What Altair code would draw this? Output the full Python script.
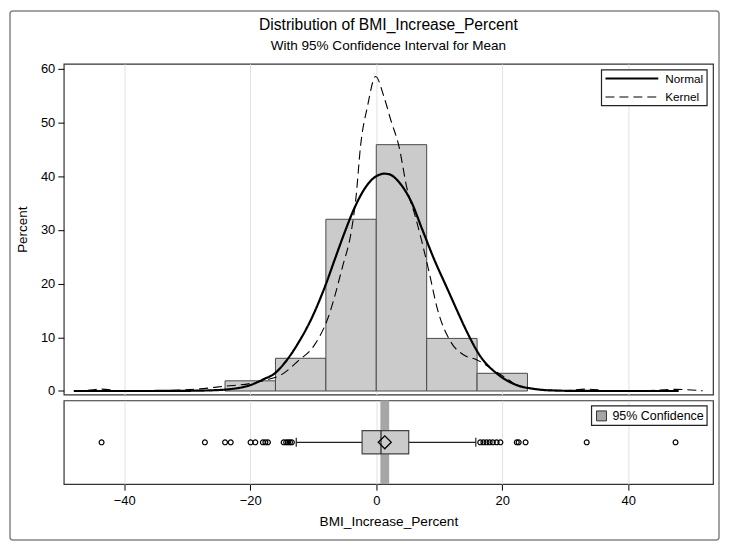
import altair as alt
import pandas as pd

FONT = "Liberation Sans"

# ---- histogram (percent of observations per 8-unit bin) ----
bin_start = [-24, -16, -8, 0, 8, 16]
bin_end = [-16, -8, 0, 8, 16, 24]
bin_pct = [1.9, 6.1, 32.0, 45.9, 9.8, 3.3]

# ---- fitted normal curve ----
normal_x = [-48, -40, -32, -27, -23, -20, -17.7, -16.2, -14.5, -12.2, -10.4, -8, -6.5, -5.1,
            -3.5, -1.9, -0.5, 0.5, 1.2, 2.0, 3.4, 4.5, 5.5, 7.3, 9.2, 11.3, 12.9, 14.4, 16.5,
            19.2, 22.3, 25, 28, 32, 40, 48]
normal_y = [0.0, 0.0, 0.02, 0.1, 0.38, 1.1, 2.3, 3.2, 5.3, 9.3, 13.2, 19.9, 24.8, 29.3,
            34.0, 37.6, 39.6, 40.3, 40.5, 40.4, 39.2, 37.5, 35.4, 30.1, 24.5, 19.0, 14.8, 11.0,
            6.5, 3.2, 1.1, 0.4, 0.1, 0.02, 0.0, 0.0]

# ---- kernel density curve ----
kernel_x = [-48, -46, -43.6, -41, -37, -32, -28, -24, -20, -17.7, -15.1, -12.5, -9.8, -7.7,
            -5.3, -4.0, -3.2, -2.5, -1.4, -0.1, 1.2, 2.3, 3.6, 4.9, 6.2, 7.2, 8.4, 9.7, 11.8,
            13.9, 16.0, 18.6, 20.5, 22.3, 24.5, 27.1, 30, 33.4, 36.5, 42, 47.5, 51.8]
kernel_y = [0.05, 0.1, 0.35, 0.08, 0.03, 0.15, 0.4, 0.9, 1.4, 2.0, 3.0, 5.5, 8.6, 13.5,
            23.4, 29.5, 36.3, 45.6, 53.0, 58.6, 54.9, 50.5, 45.6, 37.6, 32.5, 28.0, 22.1, 15.3,
            9.2, 6.7, 5.8, 3.9, 2.5, 1.1, 0.5, 0.2, 0.1, 0.35, 0.08, 0.03, 0.3, 0.05]

# ---- box plot summary ----
whisker_low = -12.7
q1 = -2.25
median = 0.75
mean = 1.35
q3 = 5.15
whisker_high = 15.8
ci_low = 0.65
ci_high = 2.05
outliers = [-43.6, -27.2, -24.0, -23.1, -19.95, -19.2, -18.0, -17.6, -17.2, -14.7, -14.3,
            -14.0, -13.7, -13.4, 16.5, 17.0, 17.5, 18.0, 18.5, 19.1, 19.7, 22.3, 22.6, 23.7,
            33.4, 47.5]

x_ticks = [-40, -20, 0, 20, 40]
y_ticks = [0, 10, 20, 30, 40, 50, 60]
legend_labels = ["Normal", "Kernel"]
ci_label = ["95% Confidence"]
title_text = ["Distribution of BMI_Increase_Percent"]
subtitle_text = ["With 95% Confidence Interval for Mean"]

W = 652
H_TOP = 332
H_BOT = 84

xs = alt.Scale(domain=[-49.6, 53.45], nice=False, zero=False)
ys = alt.Scale(domain=[-0.65, 60.95], nice=False, zero=False)
dash_scale = alt.Scale(domain=legend_labels, range=[[1, 0], [9, 5]])

top_x_axis = alt.Axis(values=x_ticks, grid=True, labels=False, ticks=False, domain=False,
                      title=None, gridColor="#e2e2e2")
top_y_axis = alt.Axis(values=y_ticks, title="Percent", grid=False, domain=False, tickSize=6,
                      tickColor="black", labelFontSize=13, labelFont=FONT, labelColor="black",
                      titleFont=FONT, titleFontSize=13.5, titleFontWeight="normal",
                      titleColor="black", titlePadding=11, labelPadding=3)

hist_df = pd.DataFrame({"start": bin_start, "end": bin_end, "pct": bin_pct})
bars = alt.Chart(hist_df).mark_rect(fill="#cbcbcb", stroke="#4a4a4a", strokeWidth=1).encode(
    x=alt.X("start:Q", scale=xs, axis=top_x_axis),
    x2="end:Q",
    y=alt.Y("pct:Q", scale=ys, axis=top_y_axis),
    y2=alt.datum(0),
)

normal_df = pd.DataFrame({"x": normal_x, "pct": normal_y, "series": "Normal"})
kernel_df = pd.DataFrame({"x": kernel_x, "pct": kernel_y, "series": "Kernel"})

normal_line = alt.Chart(normal_df).mark_line(color="black", strokeWidth=2.2,
                                             interpolate="monotone").encode(
    x=alt.X("x:Q", scale=xs),
    y=alt.Y("pct:Q", scale=ys),
    strokeDash=alt.StrokeDash("series:N", scale=dash_scale, legend=None),
)
kernel_line = alt.Chart(kernel_df).mark_line(color="black", strokeWidth=1.1,
                                             interpolate="monotone").encode(
    x=alt.X("x:Q", scale=xs),
    y=alt.Y("pct:Q", scale=ys),
    strokeDash=alt.StrokeDash("series:N", scale=dash_scale, legend=None),
)

# legend for the curves
one = pd.DataFrame({"a": [0]})
leg_box = alt.Chart(one).mark_rect(fill="white", stroke="#222", strokeWidth=1.2).encode(
    x=alt.value(540), x2=alt.value(646), y=alt.value(6), y2=alt.value(42))
leg_solid = alt.Chart(one).mark_rule(color="black", strokeWidth=2.2).encode(
    x=alt.value(544), x2=alt.value(597), y=alt.value(14.7))
leg_dash = alt.Chart(one).mark_rule(color="black", strokeWidth=1.1, strokeDash=[9, 5]).encode(
    x=alt.value(544), x2=alt.value(599), y=alt.value(33.3))
leg_t1 = alt.Chart(pd.DataFrame({"t": legend_labels[:1]})).mark_text(
    align="left", baseline="middle", font=FONT, fontSize=11.8, color="black").encode(
    text="t:N", x=alt.value(604), y=alt.value(14.7))
leg_t2 = alt.Chart(pd.DataFrame({"t": legend_labels[1:]})).mark_text(
    align="left", baseline="middle", font=FONT, fontSize=11.8, color="black").encode(
    text="t:N", x=alt.value(604), y=alt.value(33.3))

# titles
title = alt.Chart(pd.DataFrame({"t": title_text})).mark_text(
    align="center", baseline="middle", font=FONT, fontSize=15.7, color="black").encode(
    text="t:N", x=alt.value(W / 2), y=alt.value(-39))
subtitle = alt.Chart(pd.DataFrame({"t": subtitle_text})).mark_text(
    align="center", baseline="middle", font=FONT, fontSize=13.6, color="black").encode(
    text="t:N", x=alt.value(W / 2), y=alt.value(-18))

# outer frame
frame = alt.Chart(one).mark_rect(fillOpacity=0, stroke="#858585", strokeWidth=1.5,
                                 cornerRadius=3).encode(
    x=alt.value(-54), x2=alt.value(658), y=alt.value(-53), y2=alt.value(478))

top = alt.layer(bars, normal_line, kernel_line, leg_box, leg_solid, leg_dash, leg_t1, leg_t2,
                title, subtitle, frame).properties(width=W, height=H_TOP)

# ---- bottom panel: box plot with CI band ----
bot_x_axis = alt.Axis(values=x_ticks, grid=True, gridColor="#e2e2e2", domain=False, tickSize=6,
                      tickColor="black", labelFont=FONT, labelFontSize=13, labelColor="black",
                      labelPadding=4, title="BMI_Increase_Percent", titleFont=FONT,
                      titleFontSize=13.7, titleFontWeight="normal", titleColor="black",
                      titlePadding=8)

ci_df = pd.DataFrame({"lo": [ci_low], "hi": [ci_high], "label": ci_label})
ci_band = alt.Chart(ci_df).mark_rect(fill="#a6a6a6").encode(
    x=alt.X("lo:Q", scale=xs, axis=bot_x_axis),
    x2="hi:Q",
    y=alt.value(0), y2=alt.value(H_BOT),
)

wh_df = pd.DataFrame({"a": [whisker_low, q3], "b": [q1, whisker_high]})
whiskers = alt.Chart(wh_df).mark_rule(color="#222", strokeWidth=1.2).encode(
    x=alt.X("a:Q", scale=xs), x2="b:Q", y=alt.value(42))
cap_df = pd.DataFrame({"v": [whisker_low, whisker_high]})
caps = alt.Chart(cap_df).mark_rule(color="#222", strokeWidth=1.2).encode(
    x=alt.X("v:Q", scale=xs), y=alt.value(37.5), y2=alt.value(46.5))
box_df = pd.DataFrame({"q1": [q1], "q3": [q3], "med": [median], "mean": [mean]})
box = alt.Chart(box_df).mark_rect(fill="#cbcbcb", stroke="#444", strokeWidth=1.2).encode(
    x=alt.X("q1:Q", scale=xs), x2="q3:Q", y=alt.value(30.3), y2=alt.value(53.7))
med = alt.Chart(box_df).mark_rule(color="#222", strokeWidth=1.2).encode(
    x=alt.X("med:Q", scale=xs), y=alt.value(30.3), y2=alt.value(53.7))
mean_pt = alt.Chart(box_df).mark_point(shape="diamond", size=170, filled=False, color="black",
                                       strokeWidth=1.3, opacity=1).encode(
    x=alt.X("mean:Q", scale=xs), y=alt.value(42))
out_df = pd.DataFrame({"v": outliers})
out_pts = alt.Chart(out_df).mark_point(shape="circle", size=24, filled=False, color="black",
                                       strokeWidth=1.2, opacity=1).encode(
    x=alt.X("v:Q", scale=xs), y=alt.value(42))

# legend for the confidence band
ci_leg_box = alt.Chart(one).mark_rect(fill="white", stroke="#222", strokeWidth=1.2).encode(
    x=alt.value(530), x2=alt.value(646), y=alt.value(5.5), y2=alt.value(25))
ci_leg_sym = alt.Chart(one).mark_rect(fill="#a6a6a6", stroke="#333", strokeWidth=1).encode(
    x=alt.value(535), x2=alt.value(545), y=alt.value(10.5), y2=alt.value(20.5))
ci_leg_txt = alt.Chart(pd.DataFrame({"t": ci_label})).mark_text(
    align="left", baseline="middle", font=FONT, fontSize=12.5, color="black").encode(
    text="t:N", x=alt.value(551), y=alt.value(15.8))

bottom = alt.layer(ci_band, whiskers, caps, box, med, mean_pt, out_pts,
                   ci_leg_box, ci_leg_sym, ci_leg_txt).properties(width=W, height=H_BOT)

chart = alt.vconcat(top, bottom, spacing=6, bounds="flush").properties(
    padding=0, background="white"
).configure_view(stroke="#333", strokeWidth=1.2).configure_axis(labelFont=FONT)

chart.save("out.html", embed_options={"renderer": "svg", "actions": False})
